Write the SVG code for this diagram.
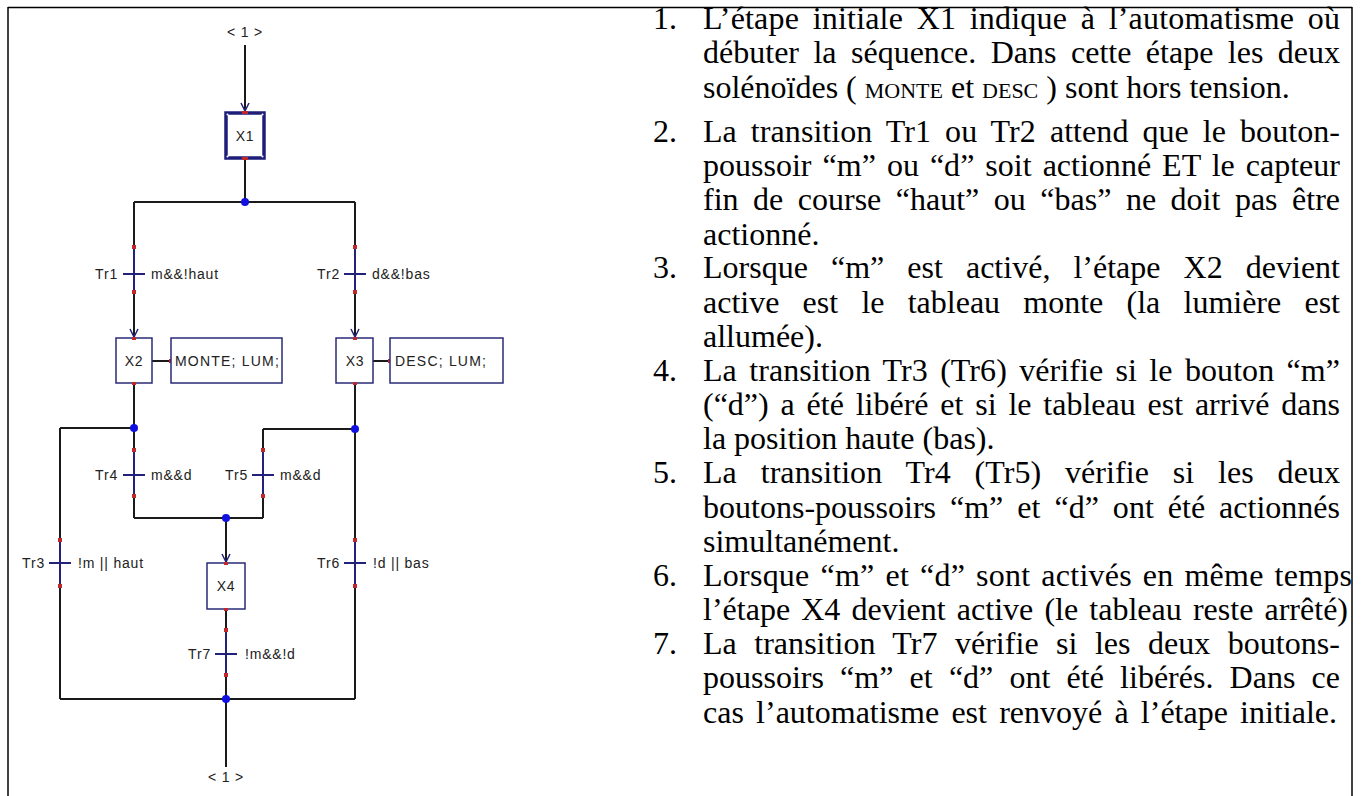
<svg xmlns="http://www.w3.org/2000/svg" width="1361" height="796" viewBox="0 0 1361 796">
<style>
.frame{stroke:#000;stroke-width:1.5;fill:none}
.wire{stroke:#1a1a1a;stroke-width:2;fill:none}
.tr{stroke:#22227a;stroke-width:2;fill:none}
.box{fill:#fff;stroke:#2a2a78;stroke-width:1.5}
.init{fill:#fff;stroke:#1e1e7a;stroke-width:3.5}
.lbl{font-family:"Liberation Sans",Arial,sans-serif;font-size:14px;fill:#222;letter-spacing:0.8px}
.act{font-family:"Liberation Sans",Arial,sans-serif;font-size:14px;fill:#222;letter-spacing:1.2px}
.rd{fill:#c0282a}
.bd{fill:#1010e0}
.txt{font-family:"Liberation Serif","Times New Roman",serif;font-size:32px;fill:#000}
.sm{font-size:22px}
</style>
<defs>
<marker id="arr" viewBox="0 0 10 10" refX="9" refY="5" markerWidth="10" markerHeight="10" markerUnits="userSpaceOnUse" orient="auto">
<path d="M1,1 L9,5 L1,9" fill="none" stroke="#22227a" stroke-width="1.5"/>
</marker>
</defs>
<rect width="1361" height="796" fill="#fff"/>
<g id="frame">
<line class="frame" x1="8" y1="7.5" x2="1352" y2="7.5"/>
<line class="frame" x1="8" y1="7" x2="8" y2="796"/>
<line class="frame" x1="1352" y1="7" x2="1352" y2="796"/>
</g>
<g id="connectors">
<line class="wire" x1="245" y1="45" x2="245" y2="111" marker-end="url(#arr)"/>
<line class="wire" x1="245" y1="158" x2="245" y2="202"/>
<line class="wire" x1="134" y1="202" x2="355" y2="202"/>
<line class="wire" x1="134" y1="202" x2="134" y2="247"/>
<line class="tr" x1="134" y1="247" x2="134" y2="292"/>
<line class="wire" x1="134" y1="292" x2="134" y2="337" marker-end="url(#arr)"/>
<line class="wire" x1="355" y1="202" x2="355" y2="247"/>
<line class="tr" x1="355" y1="247" x2="355" y2="292"/>
<line class="wire" x1="355" y1="292" x2="355" y2="337" marker-end="url(#arr)"/>
<line class="wire" x1="152" y1="361" x2="171" y2="361"/>
<line class="wire" x1="373" y1="361" x2="390" y2="361"/>
<line class="wire" x1="134" y1="383" x2="134" y2="450"/>
<line class="wire" x1="60" y1="428" x2="134" y2="428"/>
<line class="tr" x1="134" y1="450" x2="134" y2="496"/>
<line class="wire" x1="134" y1="496" x2="134" y2="518"/>
<line class="wire" x1="355" y1="383" x2="355" y2="540"/>
<line class="wire" x1="263" y1="429" x2="355" y2="429"/>
<line class="wire" x1="263" y1="429" x2="263" y2="450"/>
<line class="tr" x1="263" y1="450" x2="263" y2="496"/>
<line class="wire" x1="263" y1="496" x2="263" y2="518"/>
<line class="wire" x1="134" y1="518" x2="263" y2="518"/>
<line class="wire" x1="226" y1="518" x2="226" y2="562" marker-end="url(#arr)"/>
<line class="wire" x1="60" y1="428" x2="60" y2="540"/>
<line class="tr" x1="60" y1="540" x2="60" y2="586"/>
<line class="wire" x1="60" y1="586" x2="60" y2="699"/>
<line class="tr" x1="355" y1="540" x2="355" y2="586"/>
<line class="wire" x1="355" y1="586" x2="355" y2="699"/>
<line class="wire" x1="226" y1="609" x2="226" y2="630"/>
<line class="tr" x1="226" y1="630" x2="226" y2="675"/>
<line class="wire" x1="226" y1="675" x2="226" y2="699"/>
<line class="wire" x1="60" y1="699" x2="355" y2="699"/>
<line class="wire" x1="226" y1="699" x2="226" y2="767"/>
<line class="tr" x1="123" y1="274" x2="145" y2="274"/>
<line class="tr" x1="344" y1="274" x2="366" y2="274"/>
<line class="tr" x1="123" y1="475" x2="145" y2="475"/>
<line class="tr" x1="252" y1="475" x2="274" y2="475"/>
<line class="tr" x1="49" y1="563" x2="71" y2="563"/>
<line class="tr" x1="344" y1="563" x2="366" y2="563"/>
<line class="tr" x1="215" y1="654" x2="237" y2="654"/>
<rect class="rd" x="132" y="245" width="4" height="4"/>
<rect class="rd" x="132" y="290" width="4" height="4"/>
<rect class="rd" x="353" y="245" width="4" height="4"/>
<rect class="rd" x="353" y="290" width="4" height="4"/>
<rect class="rd" x="132" y="448" width="4" height="4"/>
<rect class="rd" x="132" y="494" width="4" height="4"/>
<rect class="rd" x="261" y="448" width="4" height="4"/>
<rect class="rd" x="261" y="494" width="4" height="4"/>
<rect class="rd" x="58" y="538" width="4" height="4"/>
<rect class="rd" x="58" y="584" width="4" height="4"/>
<rect class="rd" x="353" y="538" width="4" height="4"/>
<rect class="rd" x="353" y="584" width="4" height="4"/>
<rect class="rd" x="224" y="628" width="4" height="4"/>
<rect class="rd" x="224" y="673" width="4" height="4"/>
<rect class="rd" x="169" y="359" width="4" height="4"/>
<rect class="rd" x="388" y="359" width="4" height="4"/>
<circle class="bd" cx="245" cy="202" r="4"/>
<circle class="bd" cx="134" cy="428" r="4"/>
<circle class="bd" cx="355" cy="429" r="4"/>
<circle class="bd" cx="226" cy="518" r="4"/>
<circle class="bd" cx="226" cy="699" r="4"/>
</g>
<g id="start-ref"><text class="lbl" x="245" y="37" text-anchor="middle">&lt; 1 &gt;</text></g>
<g id="X1">
<rect class="init" x="226" y="113" width="38" height="45"/>
<circle cx="227.5" cy="114.5" r="1" fill="#fff"/><circle cx="262.5" cy="114.5" r="1" fill="#fff"/>
<circle cx="227.5" cy="156.5" r="1" fill="#fff"/><circle cx="262.5" cy="156.5" r="1" fill="#fff"/>
<rect class="rd" x="242" y="111" width="6" height="3"/><rect class="rd" x="242" y="157" width="6" height="3"/>
<text class="lbl" x="245" y="141" text-anchor="middle">X1</text>
</g>
<g id="Tr1"><text class="lbl" x="118" y="279" text-anchor="end">Tr1</text><text class="lbl" x="151" y="279">m&amp;&amp;!haut</text></g>
<g id="Tr2"><text class="lbl" x="340" y="279" text-anchor="end">Tr2</text><text class="lbl" x="372" y="279">d&amp;&amp;!bas</text></g>
<g id="X2">
<rect class="box" x="116" y="338" width="36" height="45"/>
<rect class="rd" x="132" y="337" width="4" height="3"/><rect class="rd" x="132" y="382" width="4" height="3"/>
<text class="lbl" x="134" y="366" text-anchor="middle">X2</text>
</g>
<g id="A2"><rect class="box" x="171" y="338" width="111" height="45"/><text class="act" x="175" y="366">MONTE; LUM;</text></g>
<g id="X3">
<rect class="box" x="336" y="338" width="37" height="45"/>
<rect class="rd" x="353" y="337" width="4" height="3"/><rect class="rd" x="353" y="382" width="4" height="3"/>
<text class="lbl" x="355" y="366" text-anchor="middle">X3</text>
</g>
<g id="A3"><rect class="box" x="390" y="338" width="113" height="45"/><text class="act" x="395" y="366">DESC; LUM;</text></g>
<g id="Tr4"><text class="lbl" x="118" y="480" text-anchor="end">Tr4</text><text class="lbl" x="151" y="480">m&amp;&amp;d</text></g>
<g id="Tr5"><text class="lbl" x="248" y="480" text-anchor="end">Tr5</text><text class="lbl" x="280" y="480">m&amp;&amp;d</text></g>
<g id="Tr3"><text class="lbl" x="45" y="568" text-anchor="end">Tr3</text><text class="lbl" x="78" y="568">!m || haut</text></g>
<g id="Tr6"><text class="lbl" x="340" y="568" text-anchor="end">Tr6</text><text class="lbl" x="373" y="568">!d || bas</text></g>
<g id="X4">
<rect class="box" x="207" y="563" width="38" height="46"/>
<rect class="rd" x="224" y="562" width="4" height="3"/><rect class="rd" x="224" y="608" width="4" height="3"/>
<text class="lbl" x="226" y="591" text-anchor="middle">X4</text>
</g>
<g id="Tr7"><text class="lbl" x="211" y="659" text-anchor="end">Tr7</text><text class="lbl" x="245" y="659">!m&amp;&amp;!d</text></g>
<g id="end-ref"><text class="lbl" x="226" y="782" text-anchor="middle">&lt; 1 &gt;</text></g>
<g id="notes" class="txt">
<text x="653" y="29">1.</text>
<text x="703" y="29" word-spacing="5.4" textLength="637" lengthAdjust="spacing">L’étape initiale X1 indique à l’automatisme où</text>
<text x="703" y="63" word-spacing="6.4" textLength="637" lengthAdjust="spacing">débuter la séquence. Dans cette étape les deux</text>
<text x="703" y="98">solénoïdes ( <tspan class="sm">MONTE</tspan> et <tspan class="sm">DESC</tspan> ) sont hors tension.</text>
<text x="653" y="142">2.</text>
<text x="703" y="142" word-spacing="5.9" textLength="637" lengthAdjust="spacing">La transition Tr1 ou Tr2 attend que le bouton-</text>
<text x="703" y="176" word-spacing="3" textLength="637" lengthAdjust="spacing">poussoir “m” ou “d” soit actionné ET le capteur</text>
<text x="703" y="210" word-spacing="6.5" textLength="637" lengthAdjust="spacing">fin de course “haut” ou “bas” ne doit pas être</text>
<text x="703" y="245">actionné.</text>
<text x="653" y="278">3.</text>
<text x="703" y="278" word-spacing="15" textLength="637" lengthAdjust="spacing">Lorsque “m” est activé, l’étape X2 devient</text>
<text x="703" y="313" word-spacing="15.2" textLength="637" lengthAdjust="spacing">active est le tableau monte (la lumière est</text>
<text x="703" y="347">allumée).</text>
<text x="653" y="381">4.</text>
<text x="703" y="381" word-spacing="4.3" textLength="637" lengthAdjust="spacing">La transition Tr3 (Tr6) vérifie si le bouton “m”</text>
<text x="703" y="415" word-spacing="3.8" textLength="637" lengthAdjust="spacing">(“d”) a été libéré et si le tableau est arrivé dans</text>
<text x="703" y="449">la position haute (bas).</text>
<text x="653" y="483">5.</text>
<text x="703" y="483" word-spacing="15.7" textLength="637" lengthAdjust="spacing">La transition Tr4 (Tr5) vérifie si les deux</text>
<text x="703" y="518" word-spacing="6" textLength="637" lengthAdjust="spacing">boutons-poussoirs “m” et “d” ont été actionnés</text>
<text x="703" y="552">simultanément.</text>
<text x="653" y="586">6.</text>
<text x="703" y="586" word-spacing="2.7" textLength="649" lengthAdjust="spacing">Lorsque “m” et “d” sont activés en même temps</text>
<text x="703" y="620" word-spacing="3.1" textLength="645" lengthAdjust="spacing">l’étape X4 devient active (le tableau reste arrêté)</text>
<text x="653" y="654">7.</text>
<text x="703" y="654" word-spacing="9.4" textLength="637" lengthAdjust="spacing">La transition Tr7 vérifie si les deux boutons-</text>
<text x="703" y="688" word-spacing="8.2" textLength="637" lengthAdjust="spacing">poussoirs “m” et “d” ont été libérés. Dans ce</text>
<text x="703" y="723" word-spacing="4.2" textLength="634" lengthAdjust="spacing">cas l’automatisme est renvoyé à l’étape initiale.</text>
</g>
</svg>
